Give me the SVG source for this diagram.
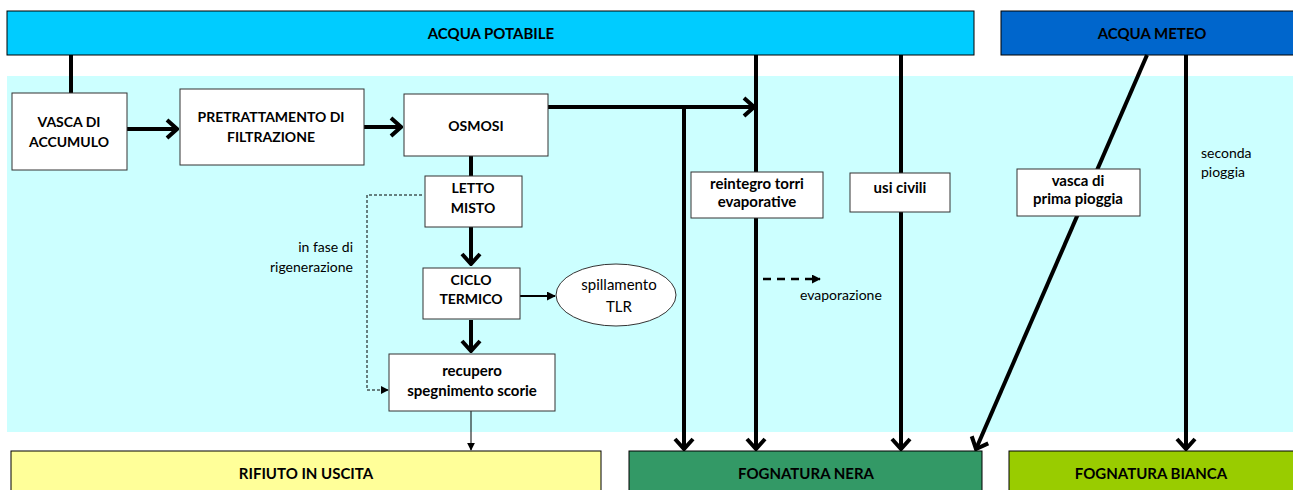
<svg xmlns="http://www.w3.org/2000/svg" width="1293" height="490" viewBox="0 0 1293 490">
<style>
.t{font-family:Lato,"Liberation Sans",sans-serif;font-size:14px;fill:#000}
.b{font-weight:bold}
.h{font-size:15px}
.m{font-size:15px}
.box{fill:#fff;stroke:#333;stroke-width:1}
.big{stroke:#000;stroke-width:1}
.thick{stroke:#000;stroke-width:4;fill:none}
.thin{stroke:#000;stroke-width:1;fill:none}
</style>
<defs>
<marker id="chev" markerUnits="userSpaceOnUse" viewBox="0 0 14 22" refX="12" refY="11" markerWidth="14" markerHeight="22" orient="auto">
<path d="M2,2 L12,11 L2,20" fill="none" stroke="#000" stroke-width="4"/>
</marker>
<marker id="tri" markerUnits="userSpaceOnUse" viewBox="0 0 10 10" refX="9" refY="5" markerWidth="9" markerHeight="9" orient="auto">
<path d="M0,0 L10,5 L0,10 Z" fill="#000"/>
</marker>
<marker id="tri2" markerUnits="userSpaceOnUse" viewBox="0 0 10 10" refX="9" refY="5" markerWidth="8" markerHeight="8" orient="auto">
<path d="M0,0 L10,5 L0,10 Z" fill="#000"/>
</marker>
</defs>
<rect x="0" y="0" width="1293" height="490" fill="#fff"/>
<rect x="7" y="76" width="1286" height="356" fill="#CCFFFF"/>

<g id="acqua-potabile"><rect class="big" x="7" y="11" width="967" height="44" fill="#00CCFF"/><text class="t b h" x="491" y="39" text-anchor="middle">ACQUA POTABILE</text></g>
<g id="acqua-meteo"><rect class="big" x="1001" y="11" width="300" height="44" fill="#0066CC"/><text class="t b h" x="1152" y="39" text-anchor="middle">ACQUA METEO</text></g>
<g id="rifiuto"><rect class="big" x="11" y="451" width="590" height="50" fill="#FFFF99"/><text class="t b h" x="306" y="479" text-anchor="middle">RIFIUTO IN USCITA</text></g>
<g id="fognatura-nera"><rect class="big" x="629" y="451" width="353" height="50" fill="#339966"/><text class="t b h" x="806" y="479" text-anchor="middle">FOGNATURA NERA</text></g>
<g id="fognatura-bianca"><rect class="big" x="1009" y="451" width="290" height="50" fill="#99CC00"/><text class="t b h" x="1151" y="479" text-anchor="middle">FOGNATURA BIANCA</text></g>

<g id="connectors">
<line class="thick" x1="71" y1="55" x2="71" y2="93"/>
<line class="thick" x1="127" y1="129" x2="177" y2="129" marker-end="url(#chev)"/>
<line class="thick" x1="364" y1="127" x2="401" y2="127" marker-end="url(#chev)"/>
<line class="thick" x1="548" y1="107" x2="754" y2="107" marker-end="url(#chev)"/>
<line class="thick" x1="684" y1="107" x2="684" y2="449" marker-end="url(#chev)"/>
<line class="thick" x1="756" y1="55" x2="756" y2="449" marker-end="url(#chev)"/>
<line class="thick" x1="901" y1="55" x2="901" y2="449" marker-end="url(#chev)"/>
<line class="thick" x1="1147" y1="55" x2="976" y2="449" marker-end="url(#chev)"/>
<line class="thick" x1="1186" y1="55" x2="1186" y2="449" marker-end="url(#chev)"/>
<line class="thick" x1="471" y1="156" x2="471" y2="176"/>
<line class="thick" x1="471" y1="227" x2="471" y2="264" marker-end="url(#chev)"/>
<line class="thick" x1="471" y1="320" x2="471" y2="351" marker-end="url(#chev)"/>
<line stroke="#000" stroke-width="2" x1="520" y1="296" x2="555" y2="296" marker-end="url(#tri)"/>
<line class="thin" x1="471" y1="411" x2="471" y2="450" marker-end="url(#tri2)"/>
<polyline class="thin" stroke-dasharray="3,2" points="422,195 367,195 367,390 388,390" marker-end="url(#tri2)"/>
<line stroke="#000" stroke-width="2.5" stroke-dasharray="8,6" x1="763" y1="279" x2="820" y2="279" marker-end="url(#tri)"/>
</g>

<g id="vasca-accumulo"><rect class="box" x="12" y="93" width="115" height="77"/><text class="t b" x="69" y="127" text-anchor="middle">VASCA DI</text><text class="t b" x="69" y="147" text-anchor="middle">ACCUMULO</text></g>
<g id="pretrattamento"><rect class="box" x="180" y="89" width="184" height="76"/><text class="t b" x="271" y="122" text-anchor="middle">PRETRATTAMENTO DI</text><text class="t b" x="271" y="142" text-anchor="middle">FILTRAZIONE</text></g>
<g id="osmosi"><rect class="box" x="404" y="94" width="144" height="62"/><text class="t b" x="476" y="131" text-anchor="middle">OSMOSI</text></g>
<g id="letto-misto"><rect class="box" x="425" y="176" width="97" height="51"/><text class="t b" x="473" y="193" text-anchor="middle">LETTO</text><text class="t b" x="473" y="213" text-anchor="middle">MISTO</text></g>
<g id="ciclo-termico"><rect class="box" x="423" y="268" width="97" height="51"/><text class="t b" x="471" y="285" text-anchor="middle">CICLO</text><text class="t b" x="471" y="304" text-anchor="middle">TERMICO</text></g>
<g id="spillamento"><ellipse cx="616" cy="295" rx="60" ry="31" fill="#fff" stroke="#333" stroke-width="1"/><text class="t m" x="619" y="290" text-anchor="middle">spillamento</text><text class="t m" x="619" y="312" text-anchor="middle">TLR</text></g>
<g id="recupero"><rect class="box" x="389" y="354" width="166" height="57"/><text class="t b m" x="472" y="376" text-anchor="middle">recupero</text><text class="t b m" x="472" y="396" text-anchor="middle">spegnimento scorie</text></g>
<g id="reintegro"><rect class="box" x="691" y="172" width="132" height="46"/><text class="t b m" x="757" y="189" text-anchor="middle">reintegro  torri</text><text class="t b m" x="757" y="207" text-anchor="middle">evaporative</text></g>
<g id="usi-civili"><rect class="box" x="850" y="173" width="100" height="39"/><text class="t b m" x="900" y="193" text-anchor="middle">usi civili</text></g>
<g id="prima-pioggia"><rect class="box" x="1017" y="169" width="123" height="47"/><text class="t b m" x="1078" y="186" text-anchor="middle">vasca di</text><text class="t b m" x="1078" y="204" text-anchor="middle">prima pioggia</text></g>

<text class="t" x="353" y="252" text-anchor="end">in fase di</text>
<text class="t" x="353" y="272" text-anchor="end">rigenerazione</text>
<text class="t" x="800" y="300">evaporazione</text>
<text class="t" x="1201" y="158">seconda</text>
<text class="t" x="1201" y="177">pioggia</text>
</svg>
